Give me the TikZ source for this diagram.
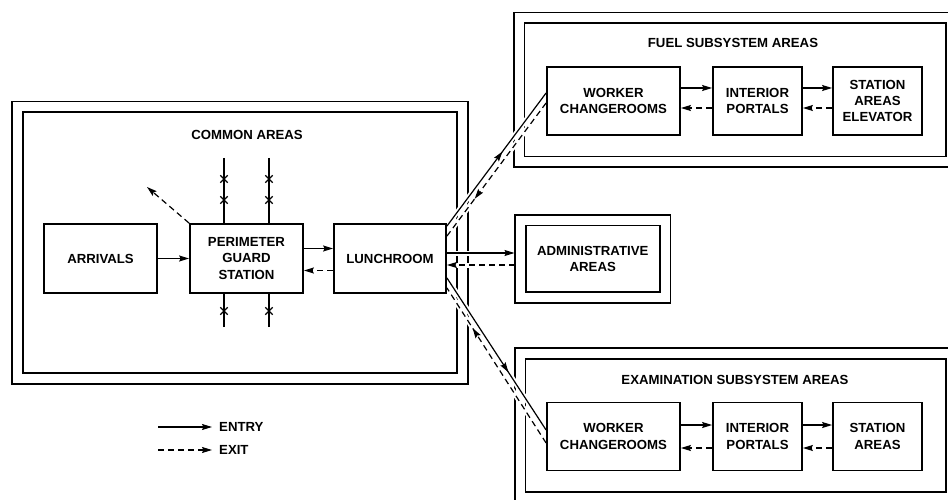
\documentclass[tikz,border=0pt]{standalone}
\usepackage{fontspec}
\setmainfont{Liberation Sans}
\usetikzlibrary{arrows.meta,shapes.misc,decorations.markings}

\begin{document}
\begin{tikzpicture}[x=1pt,y=-1pt,
        font=\bfseries\fontsize{13.2}{16.3}\selectfont,
        >={Stealth[length=10pt,width=6pt,inset=1.5pt]},
        box/.style={draw, line width=1.8pt, align=center,
                        inner sep=0pt, minimum height=68pt},
        area/.style={draw, line width=1.6pt, double,
                        double distance=9pt, inner sep=0pt, align=center},
        entry/.style={->, line width=1.2pt},
        exit/.style={->, line width=1.2pt, dash pattern=on 6pt off 4pt},
        gap/.style={draw=white, line width=5pt,
                        shorten <=8pt, shorten >=8pt},
        midarrow/.style={postaction={decorate}, decoration={markings,
                        mark=at position #1 with {\arrow{>}}}},
        xmark/.style={cross out, draw, line width=1.4pt,
                        minimum size=6pt, inner sep=0pt}]
    \useasboundingbox (0,0) rectangle (948,500);
    \clip (0,0) rectangle (948,500);

    \node[area, minimum width=445pt, minimum height=271.5pt] (common) at (240,242.75) {};
    \node (commont) at (247,135) {COMMON AREAS};
    \node[area, minimum width=432pt, minimum height=144pt] (fuel) at (735,90) {};
    \node (fuelt) at (733,43) {FUEL SUBSYSTEM AREAS};
    \node[area, minimum width=431pt, minimum height=144pt] (exam) at (735.5,425.5) {};
    \node (examt) at (735,380) {EXAMINATION SUBSYSTEM AREAS};
    \node[area, outer sep=6pt, minimum width=144.5pt, minimum height=77.5pt]
        (adm) at (592.75,258.75) {ADMINISTRATIVE\\AREAS};

    \node[box, minimum width=113pt, minimum height=69pt] (arr) at (100.5,258.5) {ARRIVALS};
    \node[box, minimum width=113pt, minimum height=69pt] (pgs) at (246.5,258.5) {PERIMETER\\GUARD\\STATION};
    \node[box, minimum width=112pt, minimum height=69pt] (lunch) at (390,258.5) {LUNCHROOM};
    \node[box, minimum width=133pt] (fwork) at (613.5,101) {WORKER\\CHANGEROOMS};
    \node[box, minimum width=89pt] (fport) at (757.5,101) {INTERIOR\\PORTALS};
    \node[box, minimum width=89pt] (fstat) at (877.5,101) {STATION\\AREAS\\ELEVATOR};
    \node[box, minimum width=133pt] (ework) at (613.5,436.5) {WORKER\\CHANGEROOMS};
    \node[box, minimum width=89pt] (eport) at (757.5,436.5) {INTERIOR\\PORTALS};
    \node[box, minimum width=89pt] (estat) at (877.5,436.5) {STATION\\AREAS};

    \draw[entry] (arr) -- (pgs);
    \draw[entry] ([yshift=10pt]pgs.east) -- ([yshift=10pt]lunch.west);
    \draw[exit] ([yshift=-12pt]lunch.west) -- ([yshift=-12pt]pgs.east);
    \coordinate (out) at (147,187);
    \draw[exit] (pgs.north west) -- (out);

    \foreach \x/\n in {224/ga,269/gb} {
        \coordinate (\n-top) at (\x,158);
        \coordinate (\n-bot) at (\x,327);
        \draw[line width=1.1pt] (\n-top) -- (\n-top |- pgs.north);
        \draw[line width=1.1pt] (\n-bot) -- (\n-bot |- pgs.south);
        \node[xmark] (\n-x1) at (\x,179) {};
        \node[xmark] (\n-x2) at (\x,200) {};
        \node[xmark] (\n-x3) at (\x,311) {};
    }

    \draw[entry] ([yshift=13pt]fwork.east) -- ([yshift=13pt]fport.west);
    \draw[exit] ([yshift=-7pt]fport.west) -- ([yshift=-7pt]fwork.east);
    \draw[entry] ([yshift=13pt]fport.east) -- ([yshift=13pt]fstat.west);
    \draw[exit] ([yshift=-7pt]fstat.west) -- ([yshift=-7pt]fport.east);
    \draw[entry] ([yshift=11.5pt]ework.east) -- ([yshift=11.5pt]eport.west);
    \draw[exit] ([yshift=-11.5pt]eport.west) -- ([yshift=-11.5pt]ework.east);
    \draw[entry] ([yshift=11.5pt]eport.east) -- ([yshift=11.5pt]estat.west);
    \draw[exit] ([yshift=-11.5pt]estat.west) -- ([yshift=-11.5pt]eport.east);

    \coordinate (fs1) at ([yshift=-3pt]lunch.north east);
    \coordinate (fs2) at ([yshift=8pt]fwork.west);
    \coordinate (fd1) at ([yshift=-2pt]fwork.west);
    \coordinate (fd2) at ([yshift=-13pt]lunch.north east);
    \coordinate (es1) at ([yshift=16pt]lunch.south east);
    \coordinate (es2) at ([yshift=6.5pt]ework.west);
    \coordinate (ed1) at ([yshift=-6.5pt]ework.west);
    \coordinate (ed2) at ([yshift=6pt]lunch.south east);
    \coordinate (as1) at ([yshift=5.5pt]lunch.east);
    \coordinate (as2) at (as1 -| adm.west);
    \coordinate (ad2) at ([yshift=-6.5pt]lunch.east);
    \coordinate (ad1) at (ad2 -| adm.west);

    \foreach \a/\b in {fs1/fs2,fd1/fd2,es1/es2,ed1/ed2,as1/as2,ad1/ad2}
        \draw[gap] (\a) -- (\b);

    \draw[line width=1.2pt, midarrow=0.56] (fs1) -- (fs2);
    \draw[line width=1.2pt, dash pattern=on 6pt off 4pt, midarrow=0.72] (fd1) -- (fd2);
    \draw[line width=1.2pt, midarrow=0.62] (es1) -- (es2);
    \draw[line width=1.2pt, dash pattern=on 6pt off 4pt, midarrow=0.74] (ed1) -- (ed2);
    \draw[entry] (as1) -- (as2);
    \draw[exit] (ad1) -- (ad2);

    \coordinate (le) at (158,427);
    \coordinate (lx) at (158,450);
    \node[anchor=west, inner xsep=7pt] (entryt) at (212,427) {ENTRY};
    \node[anchor=west, inner xsep=7pt] (exitt) at (212,450) {EXIT};
    \draw[entry] (le) -- (entryt.west);
    \draw[exit] (lx) -- (exitt.west);
\end{tikzpicture}
\end{document}
